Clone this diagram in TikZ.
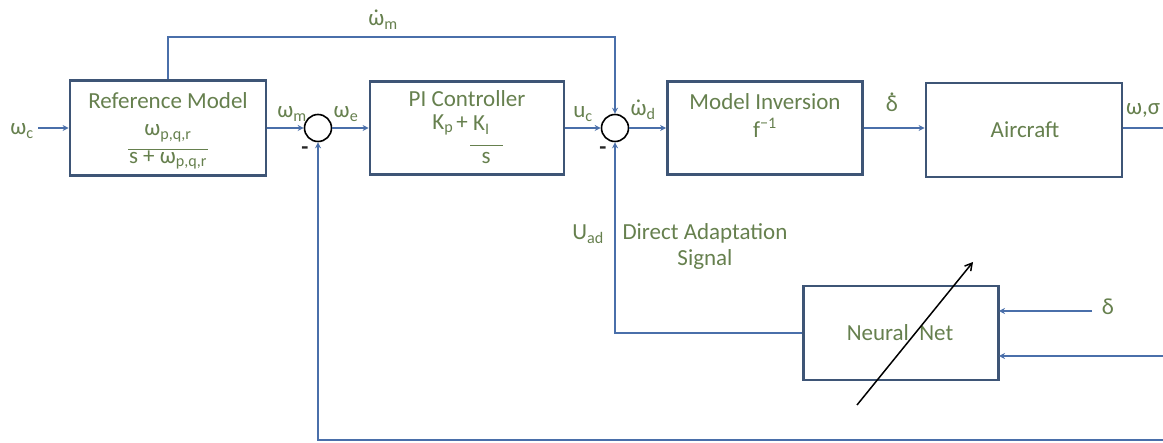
\documentclass[tikz,border=0pt]{standalone}
\usepackage{fontspec}
\setmainfont{Carlito}
\usetikzlibrary{arrows.meta}
\definecolor{txt}{HTML}{66804E}
\definecolor{bord}{HTML}{3E5576}
\definecolor{ln}{HTML}{4A6FAA}
\newcommand{\dotover}[2]{\ooalign{#2\cr\hidewidth\raisebox{#1}{.}\hidewidth\cr}}
\newcommand{\sbs}[1]{\textsubscript{#1}}
\tikzset{
  blk/.style={draw=bord, line width=2.8pt, fill=white, inner sep=0pt},
  sumc/.style={circle, draw=black, line width=1.6pt, minimum size=27pt, inner sep=0pt},
  sig/.style={draw=ln, line width=1.6pt},
  sigarr/.style={sig, -{Stealth[length=6pt,width=6pt]}},
  lbl/.style={text=txt, inner sep=0pt, font=\fontsize{23}{27}\selectfont},
  minus/.style={text=black!85, inner sep=0pt, font=\fontsize{23}{27}\selectfont\bfseries},
}
\begin{document}
\begin{tikzpicture}[x=1pt,y=-1pt]
\useasboundingbox (0,0) rectangle (1163,443);
% blocks
\node[blk, minimum width=196pt, minimum height=95pt] (ref) at (168,128) {};
\node[blk, minimum width=194pt, minimum height=93pt] (pi) at (467,128) {};
\node[blk, minimum width=195pt, minimum height=93pt] (mi) at (765,128) {};
\node[blk, minimum width=196pt, minimum height=94pt] (ac) at (1024,130) {};
\node[blk, minimum width=195pt, minimum height=94pt] (nn) at (901,333) {};
\node[sumc] (s1) at (318,128) {};
\node[sumc] (s2) at (615,128) {};
% texts in blocks
\node[lbl] (reft) at (168,101) {Reference Model};
\node[lbl] (refn) at (168,133) {ω\sbs{p,q,r}};
\node[lbl] (refd) at (168,160) {s + ω\sbs{p,q,r}};
\draw[draw=txt, line width=0.8pt] (128,149) -- (208,149);
\node[lbl] (pit) at (467,99) {PI Controller};
\node[lbl, anchor=east] (pik1) at (468,125) {K\sbs{p}\kern3pt+};
\node[lbl, anchor=west] (pik2) at (473,125) {K\sbs{I}};
\draw[draw=txt, line width=0.8pt] (470,145) -- (503,145);
\node[lbl] (pis) at (486,158) {s};
\node[lbl] (mit) at (765,102) {Model Inversion};
\node[lbl] (mif) at (765,128) {f\textsuperscript{−1}};
\node[lbl] (act) at (1025,130) {Aircraft};
\node[lbl] (nnt) at (900,333) {Neural \ Net};
% signal labels
\node[lbl] (lwc) at (22,131) {ω\sbs{c}};
\node[lbl] (lwm) at (292,114) {ω\sbs{m}};
\node[lbl] (lwe) at (346,114) {ω\sbs{e}};
\node[lbl] (luc) at (583,114) {u\sbs{c}};
\node[lbl] (lwd) at (643,112) {\dotover{0.55em}{ω}\sbs{d}};
\node[lbl] (lwmd) at (383,22) {\dotover{0.55em}{ω}\sbs{m}};
\node[lbl] (ldd) at (892,104) {\dotover{0.72em}{δ}};
\node[lbl] (lws) at (1143,110) {ω,σ};
\node[minus] (lm1) at (305,151) {-};
\node[minus] (lm2) at (603,151) {-};
\node[lbl] (luad) at (588,234) {U\sbs{ad}};
\node[lbl, align=center] (lda) at (705,246) {Direct Adaptation\\[-1pt]Signal};
\node[lbl] (ldel) at (1108,307) {δ};
% coordinates
\coordinate (in) at (38,128);
\coordinate (outr) at (1163,128);
\coordinate (tl) at (168,37);
\coordinate (tr) at (615,37);
\coordinate (fb) at (615,333);
\coordinate (bl) at (318,440);
\coordinate (br) at (1163,440);
\coordinate (din) at (1092,311);
\coordinate (lin) at (1163,356);
\coordinate (nnd) at (999,311);
\coordinate (nnl) at (999,356);
% connectors
\draw[sigarr] (in) -- (ref.west);
\draw[sigarr] (ref.east |- s1) -- (s1.west);
\draw[sigarr] (s1.east) -- (pi.west |- s1);
\draw[sigarr] (pi.east |- s2) -- (s2.west);
\draw[sigarr] (s2.east) -- (mi.west |- s2);
\draw[sigarr] (mi.east |- s2) -- (ac.west |- s2);
\draw[sig] (ac.east |- s2) -- (outr);
\draw[sigarr] (ref.north) -- (tl) -- (tr) -- (s2.north);
\draw[sigarr] (nn.west) -- (fb) -- (s2.south);
\draw[sigarr] (br) -- (bl) -- (s1.south);
\draw[sigarr] (din) -- (nnd);
\draw[sigarr] (lin) -- (nnl);
% adaptation arrow
\coordinate (da) at (857,405);
\coordinate (db) at (973,262);
\draw[black, line width=1.5pt, -{Straight Barb[length=7pt,width=8pt]}] (da) -- (db);
\end{tikzpicture}
\end{document}
